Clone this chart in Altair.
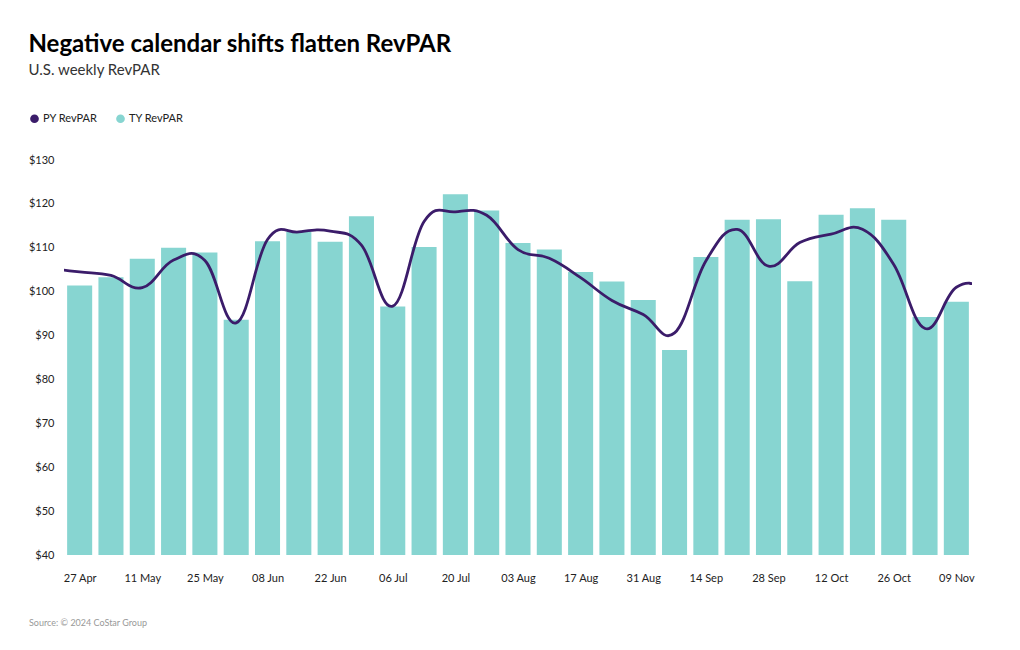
import json
import altair as alt
import pandas as pd

weeks = ["27 Apr", "04 May", "11 May", "18 May", "25 May", "01 Jun", "08 Jun", "15 Jun",
         "22 Jun", "29 Jun", "06 Jul", "13 Jul", "20 Jul", "27 Jul", "03 Aug", "10 Aug",
         "17 Aug", "24 Aug", "31 Aug", "07 Sep", "14 Sep", "21 Sep", "28 Sep", "05 Oct",
         "12 Oct", "19 Oct", "26 Oct", "02 Nov", "09 Nov"]

ty_revpar = [101.4, 103.3, 107.5, 110.0, 108.9, 93.6, 111.5, 113.6, 111.4, 117.2,
             96.6, 110.2, 122.2, 118.5, 111.1, 109.6, 104.5, 102.3, 98.1, 86.7,
             107.9, 116.4, 116.5, 102.4, 117.5, 119.0, 116.4, 94.2, 97.7]

# PY series includes neighbouring weeks on both sides (clipped at the plot edge)
py_weeks = ["20 Apr"] + weeks + ["16 Nov", "23 Nov"]
py_revpar = [105.3, 104.5, 103.7, 100.9, 107.2, 107.1, 92.9, 111.9, 113.6, 113.8,
             110.6, 96.7, 116.0, 118.2, 117.4, 109.6, 107.6, 103.2, 98.0, 94.8,
             90.6, 107.0, 114.2, 105.8, 111.2, 113.1, 114.2, 106.2, 91.6, 101.0,
             100.6, 96.0]

source_text = "Source: © 2024 CoStar Group"

FONT = "Lato"
PURPLE = "#3b1c6a"
TEAL = "#87d5d1"

ty_df = pd.DataFrame({"i": list(range(len(weeks))), "week": weeks, "value": ty_revpar,
                      "series": ["TY RevPAR"] * len(weeks)})
py_df = pd.DataFrame({"i": list(range(-1, len(py_weeks) - 1)), "week": py_weeks, "value": py_revpar,
                      "series": ["PY RevPAR"] * len(py_weeks)})

x_scale = alt.Scale(domain=[-0.5, len(weeks) - 0.5], nice=False, zero=False)
y_scale = alt.Scale(domain=[40, 130], nice=False, zero=False)
color_scale = alt.Scale(domain=["PY RevPAR", "TY RevPAR"], range=[PURPLE, TEAL])

label_expr = json.dumps(weeks) + "[datum.value]"

x_axis = alt.Axis(values=list(range(0, len(weeks), 2)), labelExpr=label_expr, title=None,
                  domain=False, ticks=False, tickSize=0, grid=False, labelPadding=17,
                  labelFontSize=11, labelColor="#222", labelFont=FONT)
y_axis = alt.Axis(values=list(range(40, 131, 10)), format="$.0f", title=None,
                  domain=False, ticks=False, tickSize=0, grid=False, labelPadding=10,
                  labelFontSize=11, labelColor="#222", labelFont=FONT)

legend = alt.Legend(title=None, orient="none", legendX=-35, legendY=-47, direction="horizontal",
                    symbolType="circle", symbolSize=75, labelFontSize=11, labelFont=FONT,
                    labelColor="#222", columnPadding=17, labelOffset=3, symbolStrokeWidth=0)

bars = alt.Chart(ty_df).transform_calculate(
    x0="datum.i - 0.4", x1="datum.i + 0.4"
).mark_bar().encode(
    x=alt.X("x0:Q", scale=x_scale, axis=x_axis),
    x2="x1:Q",
    y=alt.Y("value:Q", scale=y_scale, axis=y_axis),
    y2=alt.datum(40),
    color=alt.Color("series:N", scale=color_scale, legend=legend),
)

line = alt.Chart(py_df).mark_line(interpolate="cardinal", tension=-0.2, strokeWidth=2.8,
                                  clip=True).encode(
    x=alt.X("i:Q", scale=x_scale),
    y=alt.Y("value:Q", scale=y_scale),
    color=alt.Color("series:N", scale=color_scale, legend=legend),
)

source = alt.Chart(alt.Data(values=[{"t": source_text}])).mark_text(
    align="left", baseline="middle", fontSize=9, font=FONT, color="#999"
).encode(x=alt.value(-35), y=alt.value(463), text="t:N")

chart = alt.layer(bars, line, source).properties(
    width=908, height=395, background="white",
    padding={"left": 20, "top": 25, "right": 20, "bottom": 10},
    title=alt.TitleParams(
        text="Negative calendar shifts flatten RevPAR",
        subtitle="U.S. weekly RevPAR",
        anchor="start", frame="bounds", font=FONT, fontSize=24, fontWeight="bold",
        color="#000", subtitleFont=FONT, subtitleFontSize=15, subtitleColor="#333",
        subtitlePadding=6, offset=35,
    ),
).configure_view(stroke=None, strokeWidth=0)

chart.save("out.html", embed_options={"renderer": "svg", "actions": False})
